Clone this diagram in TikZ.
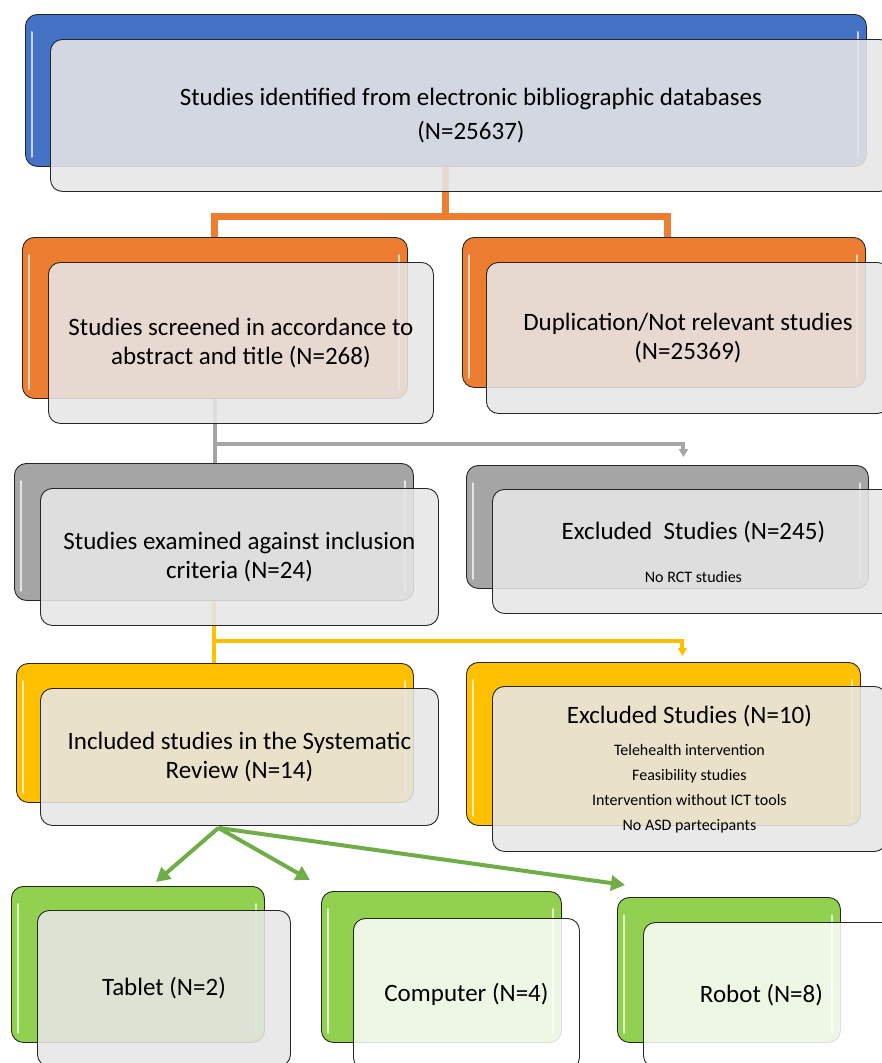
\documentclass[tikz,border=0pt]{standalone}
\usepackage{fontspec}
\setmainfont{Carlito}
\usetikzlibrary{arrows.meta}
\definecolor{stageblue}{HTML}{4472C4}
\definecolor{stageorange}{HTML}{ED7D31}
\definecolor{stagegrey}{HTML}{A5A5A5}
\definecolor{stageyellow}{HTML}{FFC000}
\definecolor{stagegreen}{HTML}{92D050}
\definecolor{flowgreen}{HTML}{70AD47}
\definecolor{panel}{HTML}{E7E6E6}
\newcommand{\smalltxt}[1]{{\fontsize{16}{19}\selectfont #1}}

\begin{document}
\begin{tikzpicture}[x=1pt,y=-1pt,
  back/.style={draw=black!85,line width=0.9pt,rounded corners=12pt,anchor=north west,inner sep=0pt},
  front/.style={draw=black!85,line width=0.9pt,rounded corners=12pt,fill=panel,fill opacity=0.88,
    text opacity=1,anchor=north west,inner sep=0pt,align=center,font=\fontsize{25}{29}\selectfont},
  lightfront/.style={front,fill=white,fill opacity=0.85},
  gloss/.style={white,opacity=0.7,line width=2pt,line cap=round},
  orangeline/.style={stageorange,line width=7pt},
  greyline/.style={stagegrey,line width=4pt},
  yellowline/.style={stageyellow,line width=4pt},
  greenarrow/.style={flowgreen,line width=4pt,-{Triangle[length=14pt,width=15pt]}}]
  \useasboundingbox (0,0) rectangle (882,1063);
  \clip (0,0) rectangle (882,1063);
  \fill[white] (0,0) rectangle (882,1063);

  \node[back,fill=stageblue,minimum width=841pt,minimum height=152pt] (idB) at (25,14) {};
  \node[back,fill=stageorange,minimum width=385pt,minimum height=161pt] (scrB) at (22,237) {};
  \node[back,fill=stageorange,minimum width=403pt,minimum height=150pt] (dupB) at (462,237) {};
  \node[back,fill=stagegrey,minimum width=399pt,minimum height=137pt] (exaB) at (14,463) {};
  \node[back,fill=stagegrey,minimum width=402pt,minimum height=123pt] (exOneB) at (466,465) {};
  \node[back,fill=stageyellow,minimum width=397pt,minimum height=139pt] (incB) at (16,663) {};
  \node[back,fill=stageyellow,minimum width=394pt,minimum height=163pt] (exTwoB) at (466,662) {};
  \node[back,fill=stagegreen,minimum width=253pt,minimum height=156pt] (tabB) at (11,886) {};
  \node[back,fill=stagegreen,minimum width=240pt,minimum height=151pt] (comB) at (321,891) {};
  \node[back,fill=stagegreen,minimum width=223pt,minimum height=145pt] (robB) at (617,897) {};

  \foreach \n in {idB,scrB,dupB,exaB,exOneB,incB,exTwoB,tabB,comB,robB} {
    \draw[gloss] ([shift={(7,18)}]\n.north west) -- ([shift={(7,-10)}]\n.south west);
    \draw[gloss] ([shift={(-9,18)}]\n.north east) -- ([shift={(-9,-10)}]\n.south east);
  }

  \draw[orangeline] (idB.south) -- ++(0,50) coordinate (forkA);
  \draw[orangeline] (scrB.north) |- (forkA) -| ([xshift=4pt]dupB.north);
  \draw[greyline] (scrB.south) -- (scrB.south |- exaB.north);
  \draw[greyline] (scrB.south) ++(0,45) coordinate (forkB);
  \draw[greyline,-{Triangle[length=8pt,width=9pt]}] (forkB) -| ([xshift=16pt,yshift=8pt]exOneB.north);
  \draw[yellowline] (exaB.south) -- (exaB.south |- incB.north);
  \draw[yellowline] (exaB.south) ++(0,40) coordinate (forkC);
  \draw[yellowline,-{Triangle[length=8pt,width=9pt]}] (forkC) -| ([xshift=19pt,yshift=6pt]exTwoB.north);

  \node[front,minimum width=841pt,minimum height=152pt] (idF) at (50,39)
    {Studies identified from electronic bibliographic databases\\[5pt](N=25637)};
  \node[front,minimum width=385pt,minimum height=161pt] (scrF) at (48,262)
    {Studies screened in accordance to\\abstract and title (N=268)};
  \node[front,minimum width=403pt,minimum height=151pt] (dupF) at (486,262)
    {Duplication/Not relevant studies\\(N=25369)};
  \node[front,minimum width=398pt,minimum height=137pt] (exaF) at (40,488)
    {Studies examined against inclusion\\criteria (N=24)};
  \node[front,minimum width=402pt,minimum height=124pt] (exOneF) at (492,489)
    {Excluded~ Studies (N=245)\\[14pt]\smalltxt{No RCT studies}};
  \node[front,minimum width=398pt,minimum height=137pt] (incF) at (40,688)
    {Included studies in the Systematic\\Review (N=14)};
  \node[front,minimum width=394pt,minimum height=165pt] (exTwoF) at (492,686)
    {Excluded Studies (N=10)\\[3pt]\smalltxt{Telehealth intervention}\\[-4pt]\smalltxt{Feasibility studies}\\[-4pt]
     \smalltxt{Intervention without ICT tools}\\[-4pt]\smalltxt{No ASD partecipants}};
  \node[front,minimum width=253pt,minimum height=156pt] (tabF) at (37,910) {Tablet (N=2)};
  \node[lightfront,minimum width=226pt,minimum height=151pt] (comF) at (353,918) {Computer (N=4)};
  \node[lightfront,minimum width=260pt,minimum height=145pt] (robF) at (643,922) {\hspace*{-24pt}Robot (N=8)};

  \coordinate (greenRoot) at ([xshift=-21pt,yshift=-2pt]incF.south);
  \draw[greenarrow] (greenRoot) -- ([xshift=18pt,yshift=4pt]tabB.north);
  \draw[greenarrow] (greenRoot) -- ([xshift=-11pt,yshift=11pt]comB.north west);
  \draw[greenarrow] (greenRoot) -- ([xshift=8pt,yshift=12pt]robB.north west);
\end{tikzpicture}
\end{document}
